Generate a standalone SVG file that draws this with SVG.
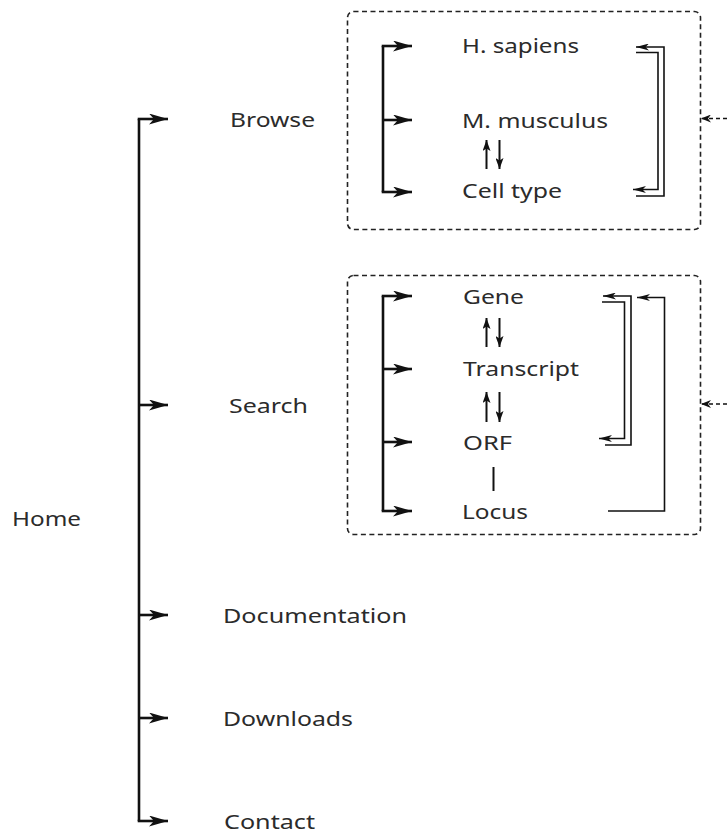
<svg xmlns="http://www.w3.org/2000/svg" width="727" height="837" viewBox="0 0 727 837">
<defs>
<style>
.t{font-family:"Noto Sans","Open Sans",sans-serif;font-size:20px;fill:#2b2b2b;}
.thick{fill:none;stroke:#111;stroke-width:2.6;}
.thin{fill:none;stroke:#111;stroke-width:1.6;}
.ud{fill:none;stroke:#111;stroke-width:2;}
.box{fill:none;stroke:#222;stroke-width:1.6;stroke-dasharray:5 3.5;}
.dash{fill:none;stroke:#111;stroke-width:1.4;stroke-dasharray:4 3;}
</style>
<marker id="big" viewBox="0 0 19 11" refX="19" refY="5.5" markerWidth="19" markerHeight="11" markerUnits="userSpaceOnUse" orient="auto">
<path d="M0,0 L19,5.5 L0,11 L5,5.5 z" fill="#111"/>
</marker>
<marker id="small" viewBox="0 0 13 7" refX="13" refY="3.5" markerWidth="13" markerHeight="7" markerUnits="userSpaceOnUse" orient="auto">
<path d="M0,0 L13,3.5 L0,7 L3.5,3.5 z" fill="#111"/>
</marker>
<marker id="ud" viewBox="0 0 11 8" refX="11" refY="4" markerWidth="11" markerHeight="8" markerUnits="userSpaceOnUse" orient="auto">
<path d="M0,0 L11,4 L0,8 L2.5,4 z" fill="#111"/>
</marker>
<marker id="dsh" viewBox="0 0 10 8" refX="10" refY="4" markerWidth="10" markerHeight="8" markerUnits="userSpaceOnUse" orient="auto">
<path d="M0,0 L10,4 L0,8 L3,4 z" fill="#111"/>
</marker>
</defs>
<rect width="727" height="837" fill="#fff"/>

<g id="containers">
<rect id="browse-box" class="box" x="347.5" y="11.5" width="353" height="218" rx="6"/>
<rect id="search-box" class="box" x="347.5" y="275.5" width="353" height="259" rx="6"/>
</g>

<g id="connectors">
<path class="thick" d="M139,119 V821"/>
<line class="thick" x1="137.7" y1="119" x2="168" y2="119" marker-end="url(#big)"/>
<line class="thick" x1="139" y1="405" x2="168" y2="405" marker-end="url(#big)"/>
<line class="thick" x1="139" y1="615" x2="168" y2="615" marker-end="url(#big)"/>
<line class="thick" x1="139" y1="718" x2="168" y2="718" marker-end="url(#big)"/>
<line class="thick" x1="137.7" y1="821" x2="168" y2="821" marker-end="url(#big)"/>

<path class="thick" d="M383,46 V192"/>
<line class="thick" x1="381.7" y1="46" x2="412" y2="46" marker-end="url(#big)"/>
<line class="thick" x1="383" y1="120" x2="412" y2="120" marker-end="url(#big)"/>
<line class="thick" x1="381.7" y1="192" x2="412" y2="192" marker-end="url(#big)"/>

<line class="ud" x1="486.5" y1="169" x2="486.5" y2="140" marker-end="url(#ud)"/>
<line class="ud" x1="499.5" y1="140" x2="499.5" y2="169" marker-end="url(#ud)"/>

<path class="thin" d="M636,196 H664 V47 H636" marker-end="url(#small)"/>
<path class="thin" d="M636,52.5 H658 V189.5 H633" marker-end="url(#small)"/>

<line class="dash" x1="727" y1="118.5" x2="701" y2="118.5" marker-end="url(#dsh)"/>

<path class="thick" d="M383,296 V511"/>
<line class="thick" x1="381.7" y1="296" x2="412" y2="296" marker-end="url(#big)"/>
<line class="thick" x1="383" y1="369" x2="412" y2="369" marker-end="url(#big)"/>
<line class="thick" x1="383" y1="442" x2="412" y2="442" marker-end="url(#big)"/>
<line class="thick" x1="381.7" y1="511" x2="412" y2="511" marker-end="url(#big)"/>

<line class="ud" x1="486.5" y1="347" x2="486.5" y2="318" marker-end="url(#ud)"/>
<line class="ud" x1="499.5" y1="318" x2="499.5" y2="347" marker-end="url(#ud)"/>
<line class="ud" x1="486.5" y1="422" x2="486.5" y2="392" marker-end="url(#ud)"/>
<line class="ud" x1="499.5" y1="392" x2="499.5" y2="422" marker-end="url(#ud)"/>
<line class="ud" x1="493.5" y1="467" x2="493.5" y2="491"/>

<path class="thin" d="M605,445 H631 V296 H603" marker-end="url(#small)"/>
<path class="thin" d="M602,302 H624.5 V438.5 H599" marker-end="url(#small)"/>
<path class="thin" d="M608,511 H664.5 V297.5 H637" marker-end="url(#small)"/>

<line class="dash" x1="727" y1="404" x2="701" y2="404" marker-end="url(#dsh)"/>
</g>

<g id="home"><text class="t" x="12" y="526" textLength="69" lengthAdjust="spacingAndGlyphs">Home</text></g>
<g id="browse"><text class="t" x="230" y="127" textLength="85" lengthAdjust="spacingAndGlyphs">Browse</text></g>
<g id="search"><text class="t" x="229" y="413" textLength="79" lengthAdjust="spacingAndGlyphs">Search</text></g>
<g id="documentation"><text class="t" x="223" y="623" textLength="184" lengthAdjust="spacingAndGlyphs">Documentation</text></g>
<g id="downloads"><text class="t" x="223" y="726" textLength="130" lengthAdjust="spacingAndGlyphs">Downloads</text></g>
<g id="contact"><text class="t" x="224" y="829" textLength="91" lengthAdjust="spacingAndGlyphs">Contact</text></g>

<g id="h-sapiens"><text class="t" x="462" y="53" textLength="117" lengthAdjust="spacingAndGlyphs">H. sapiens</text></g>
<g id="m-musculus"><text class="t" x="462" y="128" textLength="146" lengthAdjust="spacingAndGlyphs">M. musculus</text></g>
<g id="cell-type"><text class="t" x="462" y="198" textLength="100" lengthAdjust="spacingAndGlyphs">Cell type</text></g>

<g id="gene"><text class="t" x="463" y="304" textLength="61" lengthAdjust="spacingAndGlyphs">Gene</text></g>
<g id="transcript"><text class="t" x="463" y="376" textLength="116" lengthAdjust="spacingAndGlyphs">Transcript</text></g>
<g id="orf"><text class="t" x="463" y="450" textLength="49" lengthAdjust="spacingAndGlyphs">ORF</text></g>
<g id="locus"><text class="t" x="462" y="519" textLength="66" lengthAdjust="spacingAndGlyphs">Locus</text></g>
</svg>
